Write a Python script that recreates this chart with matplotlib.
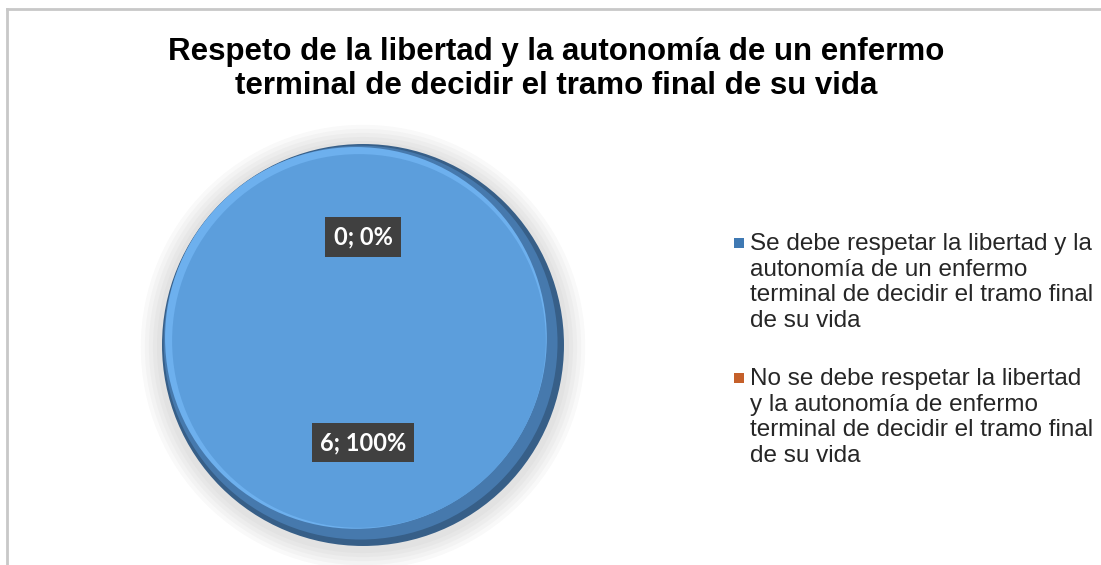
import matplotlib as mpl
mpl.use('Agg')
import matplotlib.pyplot as plt
import numpy as np
from matplotlib.patches import Circle, Rectangle
from matplotlib.lines import Line2D

# data
categories = ['Se debe respetar la libertad y la\nautonomía de un enfermo\nterminal de decidir el tramo final\nde su vida',
              'No se debe respetar la libertad\ny la autonomía de enfermo\nterminal de decidir el tramo final\nde su vida']
counts = [6, 0]
colors = ['#5c9edc', '#ed7d31']
swatch_colors = ['#3f79b3', '#c5602a']
title = 'Respeto de la libertad y la autonomía de un enfermo\nterminal de decidir el tramo final de su vida'

W, H = 1101, 565
fig = plt.figure(figsize=(W / 100, H / 100), dpi=100)

# frame of the chart area (left and top edges only are visible)
fig.add_artist(Line2D([7 / W, 7 / W], [0, 1 - 8.5 / H], color='#c8c8c8', lw=2))
fig.add_artist(Line2D([7 / W, 1], [1 - 8.5 / H, 1 - 8.5 / H], color='#c8c8c8', lw=2))

fig.text(556 / W, 1 - 69 / H, title, ha='center', va='center', fontsize=22.5,
         fontweight='bold', family='Liberation Sans', color='black', linespacing=1.2)

# pie axes: centre (363, 345) px, radius ~202 px
cx, cy, r = 363, 345, 202
ax = fig.add_axes([(cx - r) / W, (H - cy - r) / H, 2 * r / W, 2 * r / H])
ax.axis('off')

# soft shadow and bevel around the pie
for rad in [1.10, 1.08, 1.06, 1.04, 1.02]:
    ax.add_patch(Circle((0, -0.01), rad, color='#8a8a8a', alpha=0.05, lw=0, zorder=0, clip_on=False))
ax.add_patch(Circle((0, 0), 0.995, color='#375f88', lw=0, zorder=1, clip_on=False))
ax.add_patch(Circle((-0.012, 0.012), 0.975, color='#4679ad', lw=0, zorder=1.5, clip_on=False))
ax.add_patch(Circle((-0.035, 0.035), 0.945, color='#6db0ee', lw=0, zorder=2, clip_on=False))

total = sum(counts)
wedges, _ = ax.pie(counts, colors=colors, startangle=90, counterclock=False,
                   radius=0.925, center=(-0.02, 0.02), wedgeprops=dict(linewidth=0))
for w in wedges:
    w.set_zorder(3)
ax.set_xlim(-1, 1)
ax.set_ylim(-1, 1)

for w, c in zip(wedges, counts):
    mid = np.deg2rad((w.theta1 + w.theta2) / 2)
    pct = c / total * 100
    ax.text(0.509 * np.cos(mid), 0.026 + 0.509 * np.sin(mid), f'{c}; {pct:.0f}%', ha='center', va='center',
            fontsize=17, fontweight='bold', family='Lato', color='white', zorder=5,
            bbox=dict(boxstyle='square,pad=0.35', facecolor='#404040', edgecolor='none'))

# legend drawn by hand so the swatch sits on the first line of each label
for i, (lab, sc) in enumerate(zip(categories, swatch_colors)):
    top = 233 + i * 135
    fig.text(750 / W, 1 - top / H, lab, ha='left', va='top', fontsize=17.5,
             family='Liberation Sans', color='#262626', linespacing=1.21)
    fig.add_artist(Rectangle((734 / W, 1 - (top + 15) / H), 10 / W, 10 / H,
                             facecolor=sc, edgecolor='none', transform=fig.transFigure))

fig.savefig('out.png', dpi=100)
